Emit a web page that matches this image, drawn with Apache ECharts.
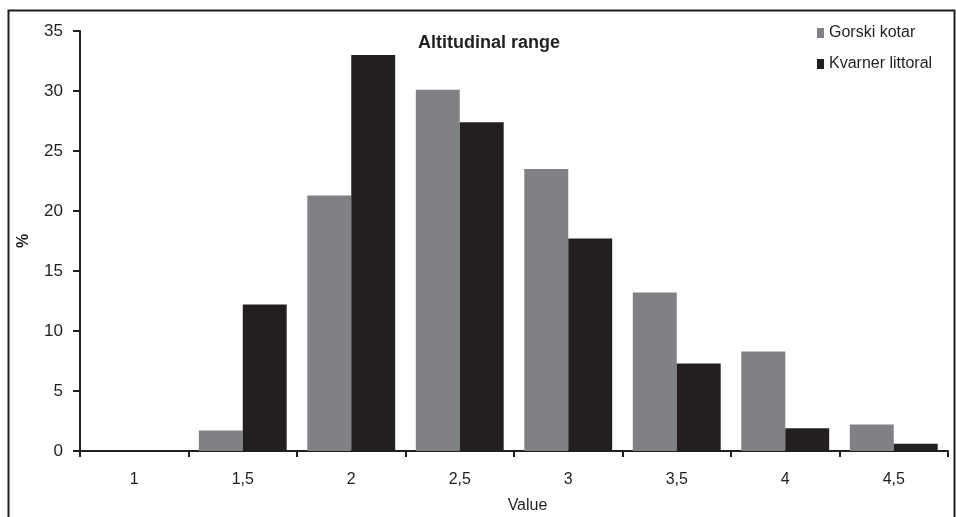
<!DOCTYPE html>
<html><head><meta charset="utf-8">
<script src="https://cdn.jsdelivr.net/npm/echarts@6/dist/echarts.min.js"></script>
<style>html,body{margin:0;padding:0;background:#fff}#c{width:956px;height:517px}</style>
</head><body><div id="c"></div>
<script>
const categories = ['1', '1,5', '2', '2,5', '3', '3,5', '4', '4,5'];
const gorskiKotar = [0, 1.7, 21.3, 30.1, 23.5, 13.2, 8.3, 2.2];
const kvarnerLittoral = [0, 12.2, 33.0, 27.4, 17.7, 7.3, 1.9, 0.6];
const yTicks = [0, 5, 10, 15, 20, 25, 30, 35];

const chart = echarts.init(document.getElementById('c'), null, {renderer: 'canvas'});
const font = 'Liberation Sans, Arial, sans-serif';
chart.setOption({
  animation: false,
  backgroundColor: '#fff',
  textStyle: {fontFamily: font},
  graphic: [
    {type: 'rect', shape: {x: 8.5, y: 10.5, width: 946, height: 520}, style: {fill: 'none', stroke: '#231f20', lineWidth: 2}, silent: true},
    {type: 'text', left: 418, top: 34, style: {text: 'Altitudinal range', fill: '#231f20', font: 'bold 18px Liberation Sans, Arial, sans-serif'}, silent: true}
  ],
  legend: {orient: 'vertical', left: 812, top: 20, itemWidth: 7, itemHeight: 10, itemGap: 15,
    icon: 'rect', itemStyle: {borderWidth: 0}, textStyle: {fontFamily: font, fontSize: 16, color: '#231f20'},
    data: ['Gorski kotar', 'Kvarner littoral']},
  grid: {left: 80, top: 31, right: 8, bottom: 66, containLabel: false, outerBoundsMode: 'none'},
  xAxis: {type: 'category', data: categories, name: 'Value', nameLocation: 'middle', nameGap: 47,
    nameTextStyle: {fontFamily: font, fontSize: 16, color: '#231f20', padding: [0, 0, 0, 27]},
    axisLine: {lineStyle: {color: '#231f20', width: 2}},
    axisTick: {show: true, length: 6, lineStyle: {color: '#231f20', width: 2}},
    axisLabel: {fontFamily: font, fontSize: 16, color: '#231f20', margin: 21}},
  yAxis: {type: 'value', min: yTicks[0], max: yTicks[yTicks.length - 1], interval: 5,
    name: '%', nameLocation: 'middle', nameGap: 48, nameRotate: 90,
    nameTextStyle: {fontFamily: font, fontSize: 16, fontWeight: 'bold', color: '#231f20'},
    axisLine: {show: true, lineStyle: {color: '#231f20', width: 2}},
    axisTick: {show: true, length: 7, lineStyle: {color: '#231f20', width: 2}},
    splitLine: {show: false},
    axisLabel: {fontFamily: font, fontSize: 17, color: '#231f20', margin: 17}},
  series: [
    {name: 'Gorski kotar', type: 'bar', data: gorskiKotar, barGap: '0%', barCategoryGap: '19%',
      itemStyle: {color: '#808184'}},
    {name: 'Kvarner littoral', type: 'bar', data: kvarnerLittoral, barGap: '0%', barCategoryGap: '19%',
      itemStyle: {color: '#231f20'}}
  ]
});
</script></body></html>
